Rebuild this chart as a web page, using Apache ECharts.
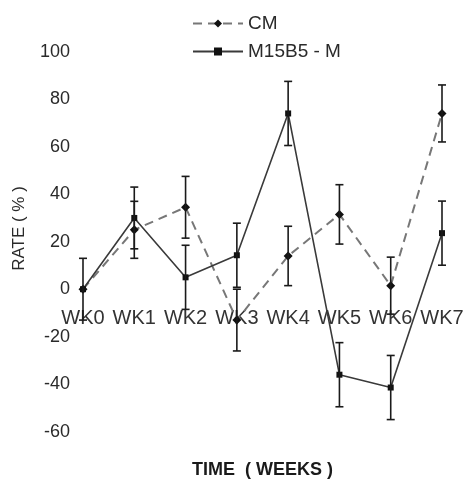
<!DOCTYPE html>
<html>
<head>
<meta charset="utf-8">
<script src="https://cdn.jsdelivr.net/npm/echarts@6/dist/echarts.min.js"></script>
<style>
html,body{margin:0;padding:0;background:#fff;}
#chart{width:464px;height:486px;}
</style>
</head>
<body>
<div id="chart"></div>
<script>
var categories = ['WK0','WK1','WK2','WK3','WK4','WK5','WK6','WK7'];
var cmMean = [0, 25, 34.5, -13, 14, 31.5, 1.5, 74];
var cmErr = [null, 12, 13, 13, 12.5, 12.5, 12, 12];
var mMean = [0, 30, 5, 14.3, 74, -36, -41.4, 23.6];
var mErr = [13, 13, 13.5, 13.5, 13.5, 13.5, 13.5, 13.5];
var yTicks = [-60, -40, -20, 0, 20, 40, 60, 80, 100];

var FONT = 'Liberation Sans, Arial, sans-serif';

function errData(mean, err) {
  var out = [];
  for (var i = 0; i < mean.length; i++) {
    if (err[i] != null) out.push([i, mean[i] - err[i], mean[i] + err[i]]);
  }
  return out;
}

function renderErr(params, api) {
  var x = api.value(0);
  var lo = api.coord([x, api.value(1)]);
  var hi = api.coord([x, api.value(2)]);
  var w = 4;
  var st = {stroke: '#1a1a1a', lineWidth: 1.6};
  return {
    type: 'group',
    children: [
      {type: 'line', shape: {x1: lo[0], y1: lo[1], x2: hi[0], y2: hi[1]}, style: st},
      {type: 'line', shape: {x1: hi[0] - w, y1: hi[1], x2: hi[0] + w, y2: hi[1]}, style: st},
      {type: 'line', shape: {x1: lo[0] - w, y1: lo[1], x2: lo[0] + w, y2: lo[1]}, style: st}
    ]
  };
}

// category labels placed on the zero line (ECharts v6 keeps axis labels at the grid edge)
var zeroLabels = categories.map(function (c) { return [c, 0]; });

var chart = echarts.init(document.getElementById('chart'), null, {renderer: 'canvas'});
chart.setOption({
  backgroundColor: '#ffffff',
  animation: false,
  textStyle: {fontFamily: FONT},
  legend: {
    orient: 'vertical',
    left: 187,
    top: 9,
    itemGap: 9,
    itemWidth: 50,
    itemHeight: 10,
    textStyle: {fontSize: 19, color: '#2a2a2a', fontFamily: FONT},
    data: ['CM', 'M15B5 - M']
  },
  grid: {left: 83, right: 22, top: 51.7, bottom: 54.3, containLabel: false},
  xAxis: {
    type: 'category',
    data: categories,
    boundaryGap: false,
    axisLine: {show: false},
    axisTick: {show: false},
    splitLine: {show: false},
    axisLabel: {show: false}
  },
  yAxis: {
    type: 'value',
    min: yTicks[0],
    max: yTicks[yTicks.length - 1],
    interval: 20,
    axisLine: {show: false},
    axisTick: {show: false},
    splitLine: {show: false},
    axisLabel: {fontSize: 18, color: '#2a2a2a', margin: 13, fontFamily: FONT}
  },
  graphic: [
    {type: 'text', x: 19.5, y: 228.5, rotation: Math.PI / 2,
     style: {text: 'RATE ( % )', fontSize: 17, fill: '#2a2a2a', textAlign: 'center', textVerticalAlign: 'middle', fontFamily: FONT}},
    {type: 'text', x: 262.5, y: 470,
     style: {text: 'TIME  ( WEEKS )', fontSize: 18, fontWeight: 'bold', fill: '#1a1a1a', textAlign: 'center', textVerticalAlign: 'middle', fontFamily: FONT}}
  ],
  series: [
    {
      name: 'xLabels', type: 'scatter', data: zeroLabels,
      symbolSize: 0, silent: true, z: 1,
      itemStyle: {opacity: 1},
      label: {show: true, position: 'bottom', distance: 19, fontSize: 20, color: '#333', opacity: 1, fontFamily: FONT,
        formatter: function (p) { return p.value[0]; }}
    },
    {
      name: 'CM', type: 'line', data: cmMean,
      symbol: 'diamond', symbolSize: 9,
      itemStyle: {color: '#111'},
      lineStyle: {color: '#777', width: 2, type: [9, 6]},
      z: 3
    },
    {
      name: 'M15B5 - M', type: 'line', data: mMean,
      symbol: 'rect', symbolSize: 6,
      itemStyle: {color: '#111'},
      lineStyle: {color: '#3a3a3a', width: 1.6},
      z: 4
    },
    {type: 'custom', name: 'cmErr', data: errData(cmMean, cmErr), renderItem: renderErr, z: 5, silent: true},
    {type: 'custom', name: 'mErr', data: errData(mMean, mErr), renderItem: renderErr, z: 5, silent: true}
  ]
});
</script>
</body>
</html>
